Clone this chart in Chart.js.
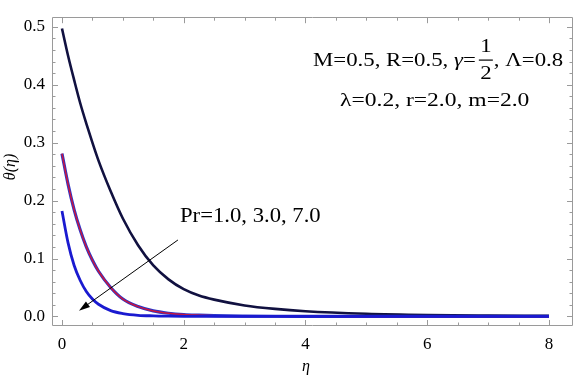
<!DOCTYPE html>
<html>
<head>
<meta charset="utf-8">
<script src="https://cdn.jsdelivr.net/npm/chart.js@4.4.1/dist/chart.umd.min.js"></script>
<style>
  html, body { margin: 0; padding: 0; background: #fff; }
  #wrap { width: 577px; height: 378px; position: relative; }
</style>
</head>
<body>
<div id="wrap"><canvas id="c" width="577" height="378"></canvas></div>
<script>
// ---- data ----
const eta = [0, 0.1, 0.2, 0.3, 0.4, 0.5, 0.6, 0.8, 1.0, 1.25, 1.5, 1.75, 2, 2.25, 2.5, 3, 3.5, 4, 5, 6, 7, 8];
const thetaPr1 = [0.497, 0.450, 0.408, 0.368, 0.333, 0.300, 0.269, 0.216, 0.169, 0.123, 0.088, 0.064, 0.047, 0.036, 0.029, 0.019, 0.013, 0.009, 0.0047, 0.0026, 0.0016, 0.001];
const thetaPr3 = [0.281, 0.228, 0.184, 0.149, 0.120, 0.097, 0.078, 0.050, 0.030, 0.017, 0.0095, 0.0055, 0.0032, 0.0021, 0.0013, 0.0006, 0.0003, 0.0002, 0.0001, 0, 0, 0];
const thetaPr7 = [0.182, 0.127, 0.088, 0.062, 0.043, 0.030, 0.021, 0.010, 0.005, 0.002, 0.001, 0.0005, 0.0002, 0.0001, 0.0001, 0, 0, 0, 0, 0, 0, 0];
const xTickLabels = [0, 2, 4, 6, 8];
const yTickLabels = [0.0, 0.1, 0.2, 0.3, 0.4, 0.5];

const pts = arr => eta.map((x, i) => ({ x: x, y: arr[i] }));
const SERIF = '"Liberation Serif", "DejaVu Serif", serif';

function txt(ctx, s, x, y, font, hs) {
  ctx.save();
  ctx.font = font;
  ctx.translate(x, y);
  ctx.scale(hs, 1);
  ctx.fillText(s, 0, 0);
  const w = ctx.measureText(s).width * hs;
  ctx.restore();
  return w;
}

const frameTicks = {
  id: 'frameTicks',
  afterDatasetsDraw(chart) {
    const { ctx, chartArea: a, scales: { x, y } } = chart;
    ctx.save();
    ctx.strokeStyle = '#9a9a9a';
    ctx.lineWidth = 1;
    ctx.beginPath();
    ctx.rect(Math.round(a.left) + 0.5, Math.round(a.top) + 0.5, Math.round(a.right - a.left) - 1, Math.round(a.bottom - a.top) - 1);
    ctx.stroke();
    ctx.beginPath();
    for (let i = 0; i <= 16; i++) {
      const v = i * 0.5;
      const px = Math.round(x.getPixelForValue(v)) + 0.5;
      const len = (i % 4 === 0) ? 6 : 3.5;
      ctx.moveTo(px, a.bottom); ctx.lineTo(px, a.bottom - len);
      ctx.moveTo(px, a.top); ctx.lineTo(px, a.top + len);
    }
    for (let i = 0; i <= 25; i++) {
      const v = i * 0.02;
      const py = Math.round(y.getPixelForValue(v)) + 0.5;
      const len = (i % 5 === 0) ? 6 : 3.5;
      ctx.moveTo(a.left, py); ctx.lineTo(a.left + len, py);
      ctx.moveTo(a.right, py); ctx.lineTo(a.right - len, py);
    }
    ctx.stroke();
    ctx.restore();
  },
  afterDraw(chart) {
    const { ctx, scales: { x, y } } = chart;
    ctx.save();
    ctx.fillStyle = '#000';
    // axis titles
    ctx.textAlign = 'center';
    ctx.textBaseline = 'middle';
    ctx.font = 'italic 16px ' + SERIF;
    ctx.fillText('\u03B7', 306, 367);
    ctx.save();
    ctx.translate(11, 167);
    ctx.rotate(-Math.PI / 2);
    ctx.fillText('\u03B8(\u03B7)', 0, 0);
    ctx.restore();

    // parameter annotation
    ctx.textBaseline = 'alphabetic';
    ctx.textAlign = 'left';
    const F = '19px ' + SERIF, FI = 'italic 19px ' + SERIF, HS = 1.2;
    let wx = 313;
    wx += txt(ctx, 'M=0.5, R=0.5, ', wx, 66, F, HS);
    wx += txt(ctx, '\u03B3', wx, 66, FI, HS);
    wx += txt(ctx, '=', wx, 66, F, HS) + 3;
    const fw = 14;
    ctx.textAlign = 'center';
    txt(ctx, '1', wx + fw / 2, 52, F, HS);
    txt(ctx, '2', wx + fw / 2, 79, F, HS);
    ctx.fillRect(wx, 59.5, fw, 1.2);
    ctx.textAlign = 'left';
    txt(ctx, ', \u039B=0.8', wx + fw + 1, 66, F, HS);
    txt(ctx, '\u03BB=0.2, r=2.0, m=2.0', 340, 106, F, 1.24);
    txt(ctx, 'Pr=1.0, 3.0, 7.0', 180, 222, '21px ' + SERIF, 1.08);

    // arrow (data coordinates)
    const x0 = x.getPixelForValue(1.905), y0 = y.getPixelForValue(0.132);
    const x1 = x.getPixelForValue(0.28), y1 = y.getPixelForValue(0.010);
    const ang = Math.atan2(y1 - y0, x1 - x0);
    ctx.strokeStyle = '#000';
    ctx.lineWidth = 1;
    ctx.beginPath();
    ctx.moveTo(x0, y0);
    ctx.lineTo(x1 - 6 * Math.cos(ang), y1 - 6 * Math.sin(ang));
    ctx.stroke();
    const hl = 11, hw = 3.5;
    ctx.beginPath();
    ctx.moveTo(x1, y1);
    ctx.lineTo(x1 - hl * Math.cos(ang) + hw * Math.sin(ang), y1 - hl * Math.sin(ang) - hw * Math.cos(ang));
    ctx.lineTo(x1 - hl * Math.cos(ang) - hw * Math.sin(ang), y1 - hl * Math.sin(ang) + hw * Math.cos(ang));
    ctx.closePath();
    ctx.fill();
    ctx.restore();
  }
};

const lineDs = (label, arr, color, width, order) => ({
  label: label,
  data: pts(arr),
  borderColor: color,
  borderWidth: width,
  pointRadius: 0,
  fill: false,
  order: order,
  cubicInterpolationMode: 'monotone'
});

new Chart(document.getElementById('c'), {
  type: 'line',
  data: {
    datasets: [
      lineDs('Pr=1.0', thetaPr1, '#111140', 2.6, 3),
      lineDs('Pr=3.0 edge', thetaPr3, '#2a34c8', 3.2, 2),
      lineDs('Pr=3.0', thetaPr3, '#c8163e', 1.5, 1),
      lineDs('Pr=7.0', thetaPr7, '#1a1ad0', 2.8, 0)
    ]
  },
  options: {
    responsive: false,
    animation: false,
    layout: { padding: { left: 0, top: 3, right: 4, bottom: 0 } },
    plugins: { legend: { display: false }, tooltip: { enabled: false } },
    scales: {
      x: {
        type: 'linear',
        min: -0.164, max: 8.395,
        grid: { display: false, drawTicks: false },
        border: { display: false },
        afterBuildTicks: s => { s.ticks = xTickLabels.map(v => ({ value: v })); },
        afterFit: s => { s.height = 52; },
        ticks: { color: '#000', font: { family: SERIF, size: 17 }, padding: 8, maxRotation: 0,
                 callback: v => String(v) }
      },
      y: {
        type: 'linear',
        min: -0.0165, max: 0.5165,
        grid: { display: false, drawTicks: false },
        border: { display: false },
        afterBuildTicks: s => { s.ticks = yTickLabels.map(v => ({ value: v })); },
        afterFit: s => { s.width = 52; },
        ticks: { color: '#000', font: { family: SERIF, size: 17 }, padding: 7,
                 callback: v => Number(v).toFixed(1) }
      }
    }
  },
  plugins: [frameTicks]
});
</script>
</body>
</html>
